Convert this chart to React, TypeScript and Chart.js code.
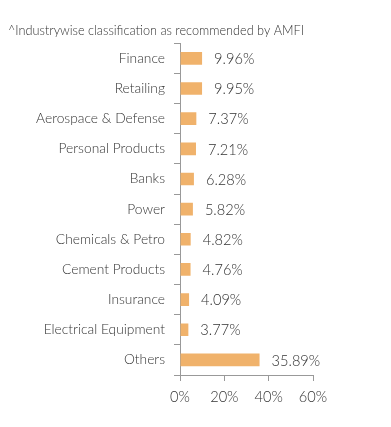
import React, { useEffect, useRef } from "react";
import { Chart, registerables } from "chart.js";

Chart.register(...registerables);

const categories = [
  "Finance",
  "Retailing",
  "Aerospace & Defense",
  "Personal Products",
  "Banks",
  "Power",
  "Chemicals & Petro",
  "Cement Products",
  "Insurance",
  "Electrical Equipment",
  "Others",
];
const values = [9.96, 9.95, 7.37, 7.21, 6.28, 5.82, 4.82, 4.76, 4.09, 3.77, 35.89];
const xTicks = [0, 20, 40, 60];
const titleText = "^Industrywise classification as recommended by AMFI";

const FONT = "Lato, 'Noto Sans', sans-serif";

const valueLabels = {
  id: "valueLabels",
  afterDatasetsDraw(chart: any) {
    const ctx = chart.ctx;
    const meta = chart.getDatasetMeta(0);
    ctx.save();
    ctx.font = `300 14.6px ${FONT}`;
    ctx.fillStyle = "#333333";
    ctx.textBaseline = "middle";
    ctx.textAlign = "left";
    meta.data.forEach((bar: any, i: number) => {
      ctx.fillText(values[i].toFixed(2) + "%", bar.x + 12, bar.y + 1);
    });
    ctx.restore();
  },
};

export default function App() {
  const ref = useRef<HTMLCanvasElement | null>(null);
  useEffect(() => {
    if (!ref.current) return;
    const chart = new Chart(ref.current, {
      type: "bar",
      data: {
        labels: categories,
        datasets: [
          {
            data: values,
            backgroundColor: "#F0B26B",
            borderWidth: 0,
            barPercentage: 0.42,
            categoryPercentage: 1,
          },
        ],
      },
      options: {
        indexAxis: "y",
        animation: false,
        responsive: false,
        maintainAspectRatio: false,
        layout: { padding: { top: 0, right: 70, bottom: 0, left: 0 } },
        plugins: {
          legend: { display: false },
          tooltip: { enabled: false },
          title: {
            display: true,
            text: titleText,
            align: "start",
            color: "#333333",
            font: { family: FONT, size: 12.7, weight: 300 },
            padding: { top: 15, bottom: 5 },
          },
        },
        scales: {
          x: {
            min: 0,
            max: 60,
            afterBuildTicks(scale: any) {
              scale.ticks = xTicks.map((v) => ({ value: v }));
            },
            afterFit(scale: any) {
              scale.height = 44;
            },
            grid: {
              drawOnChartArea: false,
              drawTicks: true,
              tickLength: 6,
              color: "#999999",
            },
            border: { display: true, color: "#999999", width: 1 },
            ticks: {
              color: "#333333",
              font: { family: FONT, size: 14.6, weight: 300 },
              padding: 8,
              callback: (v: any) => v + "%",
            },
          },
          y: {
            offset: true,
            afterFit(scale: any) {
              scale.width = 172;
            },
            grid: {
              offset: true,
              drawOnChartArea: false,
              drawTicks: true,
              tickLength: 6,
              color: "#999999",
            },
            border: { display: true, color: "#999999", width: 1 },
            ticks: {
              color: "#333333",
              font: { family: FONT, size: 13.8, weight: 300 },
              padding: 9,
            },
          },
        },
      },
      plugins: [valueLabels],
    } as any);
    return () => chart.destroy();
  }, []);
  return (
    <div style={{ width: 375, height: 411 }}>
      <canvas ref={ref} width={375} height={411} style={{ display: "block" }} />
    </div>
  );
}
